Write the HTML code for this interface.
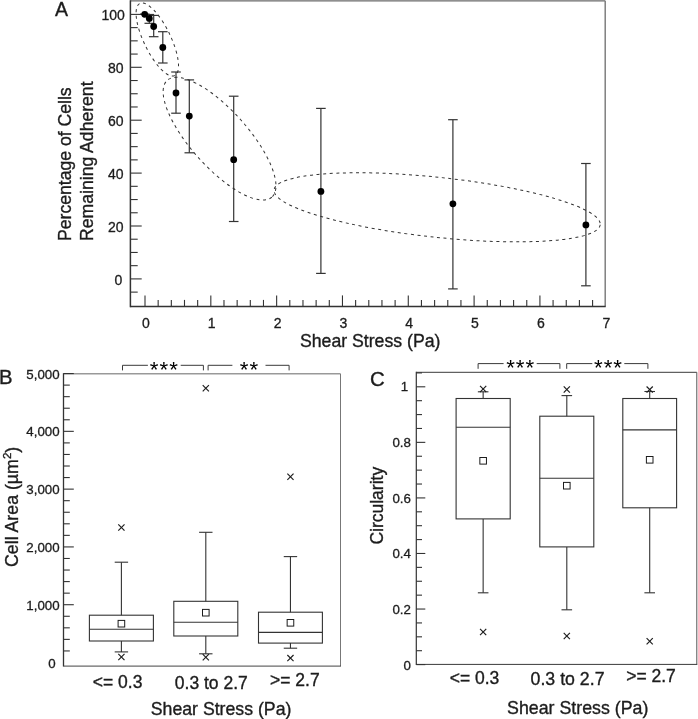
<!DOCTYPE html>
<html><head><meta charset="utf-8"><title>Figure</title>
<style>
html,body{margin:0;padding:0;background:#fff;}
body{width:698px;height:719px;overflow:hidden;}
svg{display:block;font-family:"Liberation Sans",Arial,Helvetica,sans-serif;}
</style></head><body>
<svg width="698" height="719" viewBox="0 0 698 719">
<rect x="0" y="0" width="698" height="719" fill="#fff"/>
<line x1="130.40" y1="0.80" x2="605.20" y2="0.80" stroke="#6a6a6a" stroke-width="1.3" />
<line x1="605.20" y1="0.80" x2="605.20" y2="306.40" stroke="#777" stroke-width="1.4" />
<line x1="130.40" y1="0.30" x2="130.40" y2="307.15" stroke="#333" stroke-width="1.5" />
<line x1="130.40" y1="306.40" x2="605.70" y2="306.40" stroke="#333" stroke-width="1.5" />
<line x1="145.00" y1="306.40" x2="145.00" y2="295.40" stroke="#333" stroke-width="1.1" />
<line x1="158.16" y1="306.40" x2="158.16" y2="299.90" stroke="#333" stroke-width="1.1" />
<line x1="171.33" y1="306.40" x2="171.33" y2="299.90" stroke="#333" stroke-width="1.1" />
<line x1="184.49" y1="306.40" x2="184.49" y2="299.90" stroke="#333" stroke-width="1.1" />
<line x1="197.66" y1="306.40" x2="197.66" y2="299.90" stroke="#333" stroke-width="1.1" />
<line x1="210.82" y1="306.40" x2="210.82" y2="295.40" stroke="#333" stroke-width="1.1" />
<line x1="223.98" y1="306.40" x2="223.98" y2="299.90" stroke="#333" stroke-width="1.1" />
<line x1="237.15" y1="306.40" x2="237.15" y2="299.90" stroke="#333" stroke-width="1.1" />
<line x1="250.31" y1="306.40" x2="250.31" y2="299.90" stroke="#333" stroke-width="1.1" />
<line x1="263.48" y1="306.40" x2="263.48" y2="299.90" stroke="#333" stroke-width="1.1" />
<line x1="276.64" y1="306.40" x2="276.64" y2="295.40" stroke="#333" stroke-width="1.1" />
<line x1="289.80" y1="306.40" x2="289.80" y2="299.90" stroke="#333" stroke-width="1.1" />
<line x1="302.97" y1="306.40" x2="302.97" y2="299.90" stroke="#333" stroke-width="1.1" />
<line x1="316.13" y1="306.40" x2="316.13" y2="299.90" stroke="#333" stroke-width="1.1" />
<line x1="329.30" y1="306.40" x2="329.30" y2="299.90" stroke="#333" stroke-width="1.1" />
<line x1="342.46" y1="306.40" x2="342.46" y2="295.40" stroke="#333" stroke-width="1.1" />
<line x1="355.62" y1="306.40" x2="355.62" y2="299.90" stroke="#333" stroke-width="1.1" />
<line x1="368.79" y1="306.40" x2="368.79" y2="299.90" stroke="#333" stroke-width="1.1" />
<line x1="381.95" y1="306.40" x2="381.95" y2="299.90" stroke="#333" stroke-width="1.1" />
<line x1="395.12" y1="306.40" x2="395.12" y2="299.90" stroke="#333" stroke-width="1.1" />
<line x1="408.28" y1="306.40" x2="408.28" y2="295.40" stroke="#333" stroke-width="1.1" />
<line x1="421.44" y1="306.40" x2="421.44" y2="299.90" stroke="#333" stroke-width="1.1" />
<line x1="434.61" y1="306.40" x2="434.61" y2="299.90" stroke="#333" stroke-width="1.1" />
<line x1="447.77" y1="306.40" x2="447.77" y2="299.90" stroke="#333" stroke-width="1.1" />
<line x1="460.94" y1="306.40" x2="460.94" y2="299.90" stroke="#333" stroke-width="1.1" />
<line x1="474.10" y1="306.40" x2="474.10" y2="295.40" stroke="#333" stroke-width="1.1" />
<line x1="487.26" y1="306.40" x2="487.26" y2="299.90" stroke="#333" stroke-width="1.1" />
<line x1="500.43" y1="306.40" x2="500.43" y2="299.90" stroke="#333" stroke-width="1.1" />
<line x1="513.59" y1="306.40" x2="513.59" y2="299.90" stroke="#333" stroke-width="1.1" />
<line x1="526.76" y1="306.40" x2="526.76" y2="299.90" stroke="#333" stroke-width="1.1" />
<line x1="539.92" y1="306.40" x2="539.92" y2="295.40" stroke="#333" stroke-width="1.1" />
<line x1="553.08" y1="306.40" x2="553.08" y2="299.90" stroke="#333" stroke-width="1.1" />
<line x1="566.25" y1="306.40" x2="566.25" y2="299.90" stroke="#333" stroke-width="1.1" />
<line x1="579.41" y1="306.40" x2="579.41" y2="299.90" stroke="#333" stroke-width="1.1" />
<line x1="592.58" y1="306.40" x2="592.58" y2="299.90" stroke="#333" stroke-width="1.1" />
<line x1="130.40" y1="292.12" x2="137.70" y2="292.12" stroke="#333" stroke-width="1.1" />
<line x1="130.40" y1="278.90" x2="141.70" y2="278.90" stroke="#333" stroke-width="1.1" />
<line x1="130.40" y1="265.67" x2="137.70" y2="265.67" stroke="#333" stroke-width="1.1" />
<line x1="130.40" y1="252.45" x2="137.70" y2="252.45" stroke="#333" stroke-width="1.1" />
<line x1="130.40" y1="239.22" x2="137.70" y2="239.22" stroke="#333" stroke-width="1.1" />
<line x1="130.40" y1="226.00" x2="141.70" y2="226.00" stroke="#333" stroke-width="1.1" />
<line x1="130.40" y1="212.77" x2="137.70" y2="212.77" stroke="#333" stroke-width="1.1" />
<line x1="130.40" y1="199.55" x2="137.70" y2="199.55" stroke="#333" stroke-width="1.1" />
<line x1="130.40" y1="186.32" x2="137.70" y2="186.32" stroke="#333" stroke-width="1.1" />
<line x1="130.40" y1="173.10" x2="141.70" y2="173.10" stroke="#333" stroke-width="1.1" />
<line x1="130.40" y1="159.87" x2="137.70" y2="159.87" stroke="#333" stroke-width="1.1" />
<line x1="130.40" y1="146.65" x2="137.70" y2="146.65" stroke="#333" stroke-width="1.1" />
<line x1="130.40" y1="133.42" x2="137.70" y2="133.42" stroke="#333" stroke-width="1.1" />
<line x1="130.40" y1="120.20" x2="141.70" y2="120.20" stroke="#333" stroke-width="1.1" />
<line x1="130.40" y1="106.97" x2="137.70" y2="106.97" stroke="#333" stroke-width="1.1" />
<line x1="130.40" y1="93.75" x2="137.70" y2="93.75" stroke="#333" stroke-width="1.1" />
<line x1="130.40" y1="80.52" x2="137.70" y2="80.52" stroke="#333" stroke-width="1.1" />
<line x1="130.40" y1="67.30" x2="141.70" y2="67.30" stroke="#333" stroke-width="1.1" />
<line x1="130.40" y1="54.07" x2="137.70" y2="54.07" stroke="#333" stroke-width="1.1" />
<line x1="130.40" y1="40.85" x2="137.70" y2="40.85" stroke="#333" stroke-width="1.1" />
<line x1="130.40" y1="27.62" x2="137.70" y2="27.62" stroke="#333" stroke-width="1.1" />
<line x1="130.40" y1="14.40" x2="141.70" y2="14.40" stroke="#333" stroke-width="1.1" />
<text x="145.90" y="327.60" font-size="14.0" text-anchor="middle" fill="#1c1c1c" stroke="#1c1c1c" stroke-width="0.3" >0</text>
<text x="211.72" y="327.60" font-size="14.0" text-anchor="middle" fill="#1c1c1c" stroke="#1c1c1c" stroke-width="0.3" >1</text>
<text x="277.54" y="327.60" font-size="14.0" text-anchor="middle" fill="#1c1c1c" stroke="#1c1c1c" stroke-width="0.3" >2</text>
<text x="343.36" y="327.60" font-size="14.0" text-anchor="middle" fill="#1c1c1c" stroke="#1c1c1c" stroke-width="0.3" >3</text>
<text x="409.18" y="327.60" font-size="14.0" text-anchor="middle" fill="#1c1c1c" stroke="#1c1c1c" stroke-width="0.3" >4</text>
<text x="475.00" y="327.60" font-size="14.0" text-anchor="middle" fill="#1c1c1c" stroke="#1c1c1c" stroke-width="0.3" >5</text>
<text x="540.82" y="327.60" font-size="14.0" text-anchor="middle" fill="#1c1c1c" stroke="#1c1c1c" stroke-width="0.3" >6</text>
<text x="606.34" y="327.60" font-size="14.0" text-anchor="middle" fill="#1c1c1c" stroke="#1c1c1c" stroke-width="0.3" >7</text>
<text x="122.40" y="284.80" font-size="14.0" text-anchor="end" fill="#1c1c1c" stroke="#1c1c1c" stroke-width="0.3" >0</text>
<text x="123.50" y="231.50" font-size="14.0" text-anchor="end" fill="#1c1c1c" stroke="#1c1c1c" stroke-width="0.3" >20</text>
<text x="123.50" y="178.60" font-size="14.0" text-anchor="end" fill="#1c1c1c" stroke="#1c1c1c" stroke-width="0.3" >40</text>
<text x="123.50" y="125.70" font-size="14.0" text-anchor="end" fill="#1c1c1c" stroke="#1c1c1c" stroke-width="0.3" >60</text>
<text x="123.50" y="72.50" font-size="14.0" text-anchor="end" fill="#1c1c1c" stroke="#1c1c1c" stroke-width="0.3" >80</text>
<text x="124.90" y="19.60" font-size="14.0" text-anchor="end" fill="#1c1c1c" stroke="#1c1c1c" stroke-width="0.3" >100</text>
<text x="370.20" y="346.80" font-size="17.7" text-anchor="middle" fill="#1c1c1c" stroke="#1c1c1c" stroke-width="0.35" >Shear Stress (Pa)</text>
<text transform="translate(71.0,240.9) rotate(-90)" font-size="17.6" fill="#1c1c1c" stroke="#1c1c1c" stroke-width="0.35">Percentage of Cells</text>
<text transform="translate(93.0,240.9) rotate(-90)" font-size="17.6" fill="#1c1c1c" stroke="#1c1c1c" stroke-width="0.35">Remaining Adherent</text>
<text x="55.00" y="15.80" font-size="19.5" text-anchor="start" fill="#1c1c1c" stroke="#1c1c1c" stroke-width="0.35" >A</text>
<ellipse cx="0" cy="0" rx="40.1" ry="13.45" transform="translate(157.3,39.5) rotate(64.25)" fill="none" stroke="#333" stroke-width="1.0" stroke-dasharray="3.0 3.6"/>
<ellipse cx="0" cy="0" rx="78.4" ry="28.4" transform="translate(219.55,138.7) rotate(48.16)" fill="none" stroke="#333" stroke-width="1.0" stroke-dasharray="3.0 3.6"/>
<ellipse cx="0" cy="0" rx="164.0" ry="30.0" transform="translate(437.15,207.3) rotate(6.1)" fill="none" stroke="#333" stroke-width="1.0" stroke-dasharray="3.0 3.6"/>
<line x1="144.70" y1="14.30" x2="144.70" y2="14.30" stroke="#333" stroke-width="1.2" />
<line x1="139.90" y1="14.30" x2="149.50" y2="14.30" stroke="#333" stroke-width="1.2" />
<line x1="139.90" y1="14.30" x2="149.50" y2="14.30" stroke="#333" stroke-width="1.2" />
<line x1="149.30" y1="14.50" x2="149.30" y2="23.30" stroke="#333" stroke-width="1.2" />
<line x1="144.50" y1="14.50" x2="154.10" y2="14.50" stroke="#333" stroke-width="1.2" />
<line x1="144.50" y1="23.30" x2="154.10" y2="23.30" stroke="#333" stroke-width="1.2" />
<line x1="153.70" y1="15.40" x2="153.70" y2="36.70" stroke="#333" stroke-width="1.2" />
<line x1="148.90" y1="15.40" x2="158.50" y2="15.40" stroke="#333" stroke-width="1.2" />
<line x1="148.90" y1="36.70" x2="158.50" y2="36.70" stroke="#333" stroke-width="1.2" />
<line x1="162.80" y1="31.70" x2="162.80" y2="63.00" stroke="#333" stroke-width="1.2" />
<line x1="158.00" y1="31.70" x2="167.60" y2="31.70" stroke="#333" stroke-width="1.2" />
<line x1="158.00" y1="63.00" x2="167.60" y2="63.00" stroke="#333" stroke-width="1.2" />
<line x1="176.00" y1="72.00" x2="176.00" y2="113.20" stroke="#333" stroke-width="1.2" />
<line x1="171.20" y1="72.00" x2="180.80" y2="72.00" stroke="#333" stroke-width="1.2" />
<line x1="171.20" y1="113.20" x2="180.80" y2="113.20" stroke="#333" stroke-width="1.2" />
<line x1="189.30" y1="79.90" x2="189.30" y2="152.80" stroke="#333" stroke-width="1.2" />
<line x1="184.50" y1="79.90" x2="194.10" y2="79.90" stroke="#333" stroke-width="1.2" />
<line x1="184.50" y1="152.80" x2="194.10" y2="152.80" stroke="#333" stroke-width="1.2" />
<line x1="233.70" y1="96.20" x2="233.70" y2="221.50" stroke="#333" stroke-width="1.2" />
<line x1="228.90" y1="96.20" x2="238.50" y2="96.20" stroke="#333" stroke-width="1.2" />
<line x1="228.90" y1="221.50" x2="238.50" y2="221.50" stroke="#333" stroke-width="1.2" />
<line x1="320.90" y1="108.40" x2="320.90" y2="273.40" stroke="#333" stroke-width="1.2" />
<line x1="316.10" y1="108.40" x2="325.70" y2="108.40" stroke="#333" stroke-width="1.2" />
<line x1="316.10" y1="273.40" x2="325.70" y2="273.40" stroke="#333" stroke-width="1.2" />
<line x1="452.90" y1="119.70" x2="452.90" y2="288.90" stroke="#333" stroke-width="1.2" />
<line x1="448.10" y1="119.70" x2="457.70" y2="119.70" stroke="#333" stroke-width="1.2" />
<line x1="448.10" y1="288.90" x2="457.70" y2="288.90" stroke="#333" stroke-width="1.2" />
<line x1="585.90" y1="163.50" x2="585.90" y2="285.80" stroke="#333" stroke-width="1.2" />
<line x1="581.10" y1="163.50" x2="590.70" y2="163.50" stroke="#333" stroke-width="1.2" />
<line x1="581.10" y1="285.80" x2="590.70" y2="285.80" stroke="#333" stroke-width="1.2" />
<circle cx="144.7" cy="14.3" r="3.4" fill="#000"/>
<circle cx="149.3" cy="18.4" r="3.4" fill="#000"/>
<circle cx="153.7" cy="26.5" r="3.4" fill="#000"/>
<circle cx="162.8" cy="47.5" r="3.4" fill="#000"/>
<circle cx="176.0" cy="93.0" r="3.4" fill="#000"/>
<circle cx="189.3" cy="116.1" r="3.4" fill="#000"/>
<circle cx="233.7" cy="159.7" r="3.4" fill="#000"/>
<circle cx="320.9" cy="191.4" r="3.4" fill="#000"/>
<circle cx="452.9" cy="203.8" r="3.4" fill="#000"/>
<circle cx="585.9" cy="224.9" r="3.4" fill="#000"/>
<line x1="63.50" y1="373.80" x2="340.50" y2="373.80" stroke="#999" stroke-width="1.4" />
<line x1="340.50" y1="373.80" x2="340.50" y2="666.10" stroke="#777" stroke-width="1.0" />
<line x1="63.50" y1="373.20" x2="63.50" y2="666.60" stroke="#333" stroke-width="1.3" />
<line x1="63.50" y1="666.10" x2="341.00" y2="666.10" stroke="#444" stroke-width="1.0" />
<line x1="63.50" y1="650.94" x2="69.80" y2="650.94" stroke="#333" stroke-width="1.1" />
<line x1="63.50" y1="639.38" x2="69.80" y2="639.38" stroke="#333" stroke-width="1.1" />
<line x1="63.50" y1="627.83" x2="69.80" y2="627.83" stroke="#333" stroke-width="1.1" />
<line x1="63.50" y1="616.27" x2="69.80" y2="616.27" stroke="#333" stroke-width="1.1" />
<line x1="63.50" y1="604.71" x2="73.80" y2="604.71" stroke="#333" stroke-width="1.1" />
<line x1="63.50" y1="593.15" x2="69.80" y2="593.15" stroke="#333" stroke-width="1.1" />
<line x1="63.50" y1="581.59" x2="69.80" y2="581.59" stroke="#333" stroke-width="1.1" />
<line x1="63.50" y1="570.04" x2="69.80" y2="570.04" stroke="#333" stroke-width="1.1" />
<line x1="63.50" y1="558.48" x2="69.80" y2="558.48" stroke="#333" stroke-width="1.1" />
<line x1="63.50" y1="546.92" x2="73.80" y2="546.92" stroke="#333" stroke-width="1.1" />
<line x1="63.50" y1="535.36" x2="69.80" y2="535.36" stroke="#333" stroke-width="1.1" />
<line x1="63.50" y1="523.80" x2="69.80" y2="523.80" stroke="#333" stroke-width="1.1" />
<line x1="63.50" y1="512.25" x2="69.80" y2="512.25" stroke="#333" stroke-width="1.1" />
<line x1="63.50" y1="500.69" x2="69.80" y2="500.69" stroke="#333" stroke-width="1.1" />
<line x1="63.50" y1="489.13" x2="73.80" y2="489.13" stroke="#333" stroke-width="1.1" />
<line x1="63.50" y1="477.57" x2="69.80" y2="477.57" stroke="#333" stroke-width="1.1" />
<line x1="63.50" y1="466.01" x2="69.80" y2="466.01" stroke="#333" stroke-width="1.1" />
<line x1="63.50" y1="454.46" x2="69.80" y2="454.46" stroke="#333" stroke-width="1.1" />
<line x1="63.50" y1="442.90" x2="69.80" y2="442.90" stroke="#333" stroke-width="1.1" />
<line x1="63.50" y1="431.34" x2="73.80" y2="431.34" stroke="#333" stroke-width="1.1" />
<line x1="63.50" y1="419.78" x2="69.80" y2="419.78" stroke="#333" stroke-width="1.1" />
<line x1="63.50" y1="408.22" x2="69.80" y2="408.22" stroke="#333" stroke-width="1.1" />
<line x1="63.50" y1="396.67" x2="69.80" y2="396.67" stroke="#333" stroke-width="1.1" />
<line x1="63.50" y1="385.11" x2="69.80" y2="385.11" stroke="#333" stroke-width="1.1" />
<line x1="63.50" y1="373.55" x2="73.80" y2="373.55" stroke="#333" stroke-width="1.1" />
<text x="55.60" y="667.50" font-size="13.3" text-anchor="end" fill="#1c1c1c" stroke="#1c1c1c" stroke-width="0.3" >0</text>
<text x="59.60" y="609.71" font-size="13.3" text-anchor="end" fill="#1c1c1c" stroke="#1c1c1c" stroke-width="0.3" >1,000</text>
<text x="59.60" y="551.92" font-size="13.3" text-anchor="end" fill="#1c1c1c" stroke="#1c1c1c" stroke-width="0.3" >2,000</text>
<text x="59.60" y="494.13" font-size="13.3" text-anchor="end" fill="#1c1c1c" stroke="#1c1c1c" stroke-width="0.3" >3,000</text>
<text x="59.60" y="436.34" font-size="13.3" text-anchor="end" fill="#1c1c1c" stroke="#1c1c1c" stroke-width="0.3" >4,000</text>
<text x="59.60" y="378.55" font-size="13.3" text-anchor="end" fill="#1c1c1c" stroke="#1c1c1c" stroke-width="0.3" >5,000</text>
<text x="-0.90" y="383.50" font-size="20.3" text-anchor="start" fill="#1c1c1c" stroke="#1c1c1c" stroke-width="0.35" >B</text>
<text transform="translate(17.6,567.0) rotate(-90)" font-size="17.75" fill="#1c1c1c" stroke="#1c1c1c" stroke-width="0.35">Cell Area (µm<tspan font-size="11.5" dy="-6.8">2</tspan><tspan dy="6.8">)</tspan></text>
<line x1="121.40" y1="562.20" x2="121.40" y2="615.20" stroke="#333" stroke-width="1.1" />
<line x1="121.40" y1="641.00" x2="121.40" y2="651.90" stroke="#333" stroke-width="1.1" />
<line x1="114.70" y1="562.20" x2="128.10" y2="562.20" stroke="#333" stroke-width="1.1" />
<line x1="114.70" y1="651.90" x2="128.10" y2="651.90" stroke="#333" stroke-width="1.1" />
<rect x="89.40" y="615.20" width="64.00" height="25.80" fill="none" stroke="#333" stroke-width="1.1"/>
<line x1="89.40" y1="629.30" x2="153.40" y2="629.30" stroke="#333" stroke-width="1.1" />
<rect x="118.10" y="620.40" width="6.60" height="6.60" fill="#fff" stroke="#1c1c1c" stroke-width="1.0"/>
<line x1="118.30" y1="653.90" x2="124.50" y2="660.10" stroke="#1c1c1c" stroke-width="1.15" />
<line x1="118.30" y1="660.10" x2="124.50" y2="653.90" stroke="#1c1c1c" stroke-width="1.15" />
<line x1="118.30" y1="524.40" x2="124.50" y2="530.60" stroke="#1c1c1c" stroke-width="1.15" />
<line x1="118.30" y1="530.60" x2="124.50" y2="524.40" stroke="#1c1c1c" stroke-width="1.15" />
<line x1="205.80" y1="532.30" x2="205.80" y2="601.30" stroke="#333" stroke-width="1.1" />
<line x1="205.80" y1="636.00" x2="205.80" y2="653.80" stroke="#333" stroke-width="1.1" />
<line x1="199.10" y1="532.30" x2="212.50" y2="532.30" stroke="#333" stroke-width="1.1" />
<line x1="199.10" y1="653.80" x2="212.50" y2="653.80" stroke="#333" stroke-width="1.1" />
<rect x="173.80" y="601.30" width="64.00" height="34.70" fill="none" stroke="#333" stroke-width="1.1"/>
<line x1="173.80" y1="622.20" x2="237.80" y2="622.20" stroke="#333" stroke-width="1.1" />
<rect x="202.50" y="609.40" width="6.60" height="6.60" fill="#fff" stroke="#1c1c1c" stroke-width="1.0"/>
<line x1="202.70" y1="654.10" x2="208.90" y2="660.30" stroke="#1c1c1c" stroke-width="1.15" />
<line x1="202.70" y1="660.30" x2="208.90" y2="654.10" stroke="#1c1c1c" stroke-width="1.15" />
<line x1="202.70" y1="385.10" x2="208.90" y2="391.30" stroke="#1c1c1c" stroke-width="1.15" />
<line x1="202.70" y1="391.30" x2="208.90" y2="385.10" stroke="#1c1c1c" stroke-width="1.15" />
<line x1="290.45" y1="556.60" x2="290.45" y2="612.20" stroke="#333" stroke-width="1.1" />
<line x1="290.45" y1="643.10" x2="290.45" y2="648.20" stroke="#333" stroke-width="1.1" />
<line x1="283.75" y1="556.60" x2="297.15" y2="556.60" stroke="#333" stroke-width="1.1" />
<line x1="283.75" y1="648.20" x2="297.15" y2="648.20" stroke="#333" stroke-width="1.1" />
<rect x="258.50" y="612.20" width="63.90" height="30.90" fill="none" stroke="#333" stroke-width="1.1"/>
<line x1="258.50" y1="632.40" x2="322.40" y2="632.40" stroke="#333" stroke-width="1.1" />
<rect x="287.15" y="619.50" width="6.60" height="6.60" fill="#fff" stroke="#1c1c1c" stroke-width="1.0"/>
<line x1="287.35" y1="655.00" x2="293.55" y2="661.20" stroke="#1c1c1c" stroke-width="1.15" />
<line x1="287.35" y1="661.20" x2="293.55" y2="655.00" stroke="#1c1c1c" stroke-width="1.15" />
<line x1="287.35" y1="473.60" x2="293.55" y2="479.80" stroke="#1c1c1c" stroke-width="1.15" />
<line x1="287.35" y1="479.80" x2="293.55" y2="473.60" stroke="#1c1c1c" stroke-width="1.15" />
<polyline points="122.5,370.4 122.5,365.3 147.9,365.3" fill="none" stroke="#3a3a3a" stroke-width="1.0"/>
<polyline points="180.7,365.3 203.4,365.3 203.4,370.4" fill="none" stroke="#3a3a3a" stroke-width="1.0"/>
<text x="164.30" y="376.60" font-size="22.3" text-anchor="middle" fill="#000" stroke="#000" stroke-width="0" letter-spacing="1.0">***</text>
<polyline points="208.1,370.4 208.1,365.3 232.4,365.3" fill="none" stroke="#3a3a3a" stroke-width="1.0"/>
<polyline points="265.5,365.3 289.1,365.3 289.1,370.4" fill="none" stroke="#3a3a3a" stroke-width="1.0"/>
<text x="249.50" y="376.60" font-size="22.3" text-anchor="middle" fill="#000" stroke="#000" stroke-width="0" letter-spacing="1.0">**</text>
<text x="92.75" y="688.40" font-size="17.5" text-anchor="start" fill="#1c1c1c" stroke="#1c1c1c" stroke-width="0.35" >&lt;= 0.3</text>
<text x="174.80" y="688.70" font-size="17.5" text-anchor="start" fill="#1c1c1c" stroke="#1c1c1c" stroke-width="0.35" >0.3 to 2.7</text>
<text x="270.00" y="686.40" font-size="17.5" text-anchor="start" fill="#1c1c1c" stroke="#1c1c1c" stroke-width="0.35" >&gt;= 2.7</text>
<text x="221.10" y="715.10" font-size="17.7" text-anchor="middle" fill="#1c1c1c" stroke="#1c1c1c" stroke-width="0.35" >Shear Stress (Pa)</text>
<line x1="416.30" y1="371.80" x2="416.30" y2="664.90" stroke="#333" stroke-width="1.2" />
<line x1="416.30" y1="372.30" x2="696.80" y2="372.30" stroke="#3a3a3a" stroke-width="1.0" />
<line x1="696.80" y1="372.30" x2="696.80" y2="664.40" stroke="#555" stroke-width="1.0" />
<line x1="416.30" y1="664.40" x2="697.30" y2="664.40" stroke="#3a3a3a" stroke-width="1.0" />
<line x1="416.30" y1="664.60" x2="425.30" y2="664.60" stroke="#333" stroke-width="1.1" />
<line x1="416.30" y1="650.71" x2="422.00" y2="650.71" stroke="#333" stroke-width="1.1" />
<line x1="416.30" y1="636.82" x2="422.00" y2="636.82" stroke="#333" stroke-width="1.1" />
<line x1="416.30" y1="622.93" x2="422.00" y2="622.93" stroke="#333" stroke-width="1.1" />
<line x1="416.30" y1="609.04" x2="425.30" y2="609.04" stroke="#333" stroke-width="1.1" />
<line x1="416.30" y1="595.15" x2="422.00" y2="595.15" stroke="#333" stroke-width="1.1" />
<line x1="416.30" y1="581.26" x2="422.00" y2="581.26" stroke="#333" stroke-width="1.1" />
<line x1="416.30" y1="567.37" x2="422.00" y2="567.37" stroke="#333" stroke-width="1.1" />
<line x1="416.30" y1="553.48" x2="425.30" y2="553.48" stroke="#333" stroke-width="1.1" />
<line x1="416.30" y1="539.59" x2="422.00" y2="539.59" stroke="#333" stroke-width="1.1" />
<line x1="416.30" y1="525.70" x2="422.00" y2="525.70" stroke="#333" stroke-width="1.1" />
<line x1="416.30" y1="511.81" x2="422.00" y2="511.81" stroke="#333" stroke-width="1.1" />
<line x1="416.30" y1="497.92" x2="425.30" y2="497.92" stroke="#333" stroke-width="1.1" />
<line x1="416.30" y1="484.03" x2="422.00" y2="484.03" stroke="#333" stroke-width="1.1" />
<line x1="416.30" y1="470.14" x2="422.00" y2="470.14" stroke="#333" stroke-width="1.1" />
<line x1="416.30" y1="456.25" x2="422.00" y2="456.25" stroke="#333" stroke-width="1.1" />
<line x1="416.30" y1="442.36" x2="425.30" y2="442.36" stroke="#333" stroke-width="1.1" />
<line x1="416.30" y1="428.47" x2="422.00" y2="428.47" stroke="#333" stroke-width="1.1" />
<line x1="416.30" y1="414.58" x2="422.00" y2="414.58" stroke="#333" stroke-width="1.1" />
<line x1="416.30" y1="400.69" x2="422.00" y2="400.69" stroke="#333" stroke-width="1.1" />
<line x1="416.30" y1="386.80" x2="425.30" y2="386.80" stroke="#333" stroke-width="1.1" />
<line x1="416.30" y1="372.91" x2="422.00" y2="372.91" stroke="#333" stroke-width="1.1" />
<text x="410.90" y="669.50" font-size="13.3" text-anchor="end" fill="#1c1c1c" stroke="#1c1c1c" stroke-width="0.3" >0</text>
<text x="410.90" y="613.94" font-size="13.3" text-anchor="end" fill="#1c1c1c" stroke="#1c1c1c" stroke-width="0.3" >0.2</text>
<text x="410.90" y="558.38" font-size="13.3" text-anchor="end" fill="#1c1c1c" stroke="#1c1c1c" stroke-width="0.3" >0.4</text>
<text x="410.90" y="502.82" font-size="13.3" text-anchor="end" fill="#1c1c1c" stroke="#1c1c1c" stroke-width="0.3" >0.6</text>
<text x="410.90" y="447.26" font-size="13.3" text-anchor="end" fill="#1c1c1c" stroke="#1c1c1c" stroke-width="0.3" >0.8</text>
<text x="408.20" y="391.30" font-size="13.3" text-anchor="end" fill="#1c1c1c" stroke="#1c1c1c" stroke-width="0.3" >1</text>
<text x="369.90" y="386.00" font-size="20.4" text-anchor="start" fill="#1c1c1c" stroke="#1c1c1c" stroke-width="0.35" >C</text>
<text transform="translate(383.3,544.6) rotate(-90)" font-size="17.5" fill="#1c1c1c" stroke="#1c1c1c" stroke-width="0.35">Circularity</text>
<line x1="483.15" y1="391.80" x2="483.15" y2="398.50" stroke="#333" stroke-width="1.1" />
<line x1="483.15" y1="518.90" x2="483.15" y2="592.80" stroke="#333" stroke-width="1.1" />
<line x1="477.85" y1="391.80" x2="488.45" y2="391.80" stroke="#333" stroke-width="1.1" />
<line x1="477.85" y1="592.80" x2="488.45" y2="592.80" stroke="#333" stroke-width="1.1" />
<rect x="456.10" y="398.50" width="54.10" height="120.40" fill="none" stroke="#333" stroke-width="1.1"/>
<line x1="456.10" y1="427.30" x2="510.20" y2="427.30" stroke="#333" stroke-width="1.1" />
<rect x="479.85" y="457.50" width="6.60" height="6.60" fill="#fff" stroke="#1c1c1c" stroke-width="1.0"/>
<line x1="480.05" y1="628.90" x2="486.25" y2="635.10" stroke="#1c1c1c" stroke-width="1.15" />
<line x1="480.05" y1="635.10" x2="486.25" y2="628.90" stroke="#1c1c1c" stroke-width="1.15" />
<line x1="480.05" y1="385.90" x2="486.25" y2="392.10" stroke="#1c1c1c" stroke-width="1.15" />
<line x1="480.05" y1="392.10" x2="486.25" y2="385.90" stroke="#1c1c1c" stroke-width="1.15" />
<line x1="566.80" y1="395.60" x2="566.80" y2="416.20" stroke="#333" stroke-width="1.1" />
<line x1="566.80" y1="546.90" x2="566.80" y2="609.80" stroke="#333" stroke-width="1.1" />
<line x1="561.50" y1="395.60" x2="572.10" y2="395.60" stroke="#333" stroke-width="1.1" />
<line x1="561.50" y1="609.80" x2="572.10" y2="609.80" stroke="#333" stroke-width="1.1" />
<rect x="539.80" y="416.20" width="54.00" height="130.70" fill="none" stroke="#333" stroke-width="1.1"/>
<line x1="539.80" y1="478.30" x2="593.80" y2="478.30" stroke="#333" stroke-width="1.1" />
<rect x="563.50" y="482.40" width="6.60" height="6.60" fill="#fff" stroke="#1c1c1c" stroke-width="1.0"/>
<line x1="563.70" y1="632.90" x2="569.90" y2="639.10" stroke="#1c1c1c" stroke-width="1.15" />
<line x1="563.70" y1="639.10" x2="569.90" y2="632.90" stroke="#1c1c1c" stroke-width="1.15" />
<line x1="563.70" y1="386.40" x2="569.90" y2="392.60" stroke="#1c1c1c" stroke-width="1.15" />
<line x1="563.70" y1="392.60" x2="569.90" y2="386.40" stroke="#1c1c1c" stroke-width="1.15" />
<line x1="649.70" y1="391.50" x2="649.70" y2="398.50" stroke="#333" stroke-width="1.1" />
<line x1="649.70" y1="507.80" x2="649.70" y2="592.80" stroke="#333" stroke-width="1.1" />
<line x1="644.40" y1="391.50" x2="655.00" y2="391.50" stroke="#333" stroke-width="1.1" />
<line x1="644.40" y1="592.80" x2="655.00" y2="592.80" stroke="#333" stroke-width="1.1" />
<rect x="622.80" y="398.50" width="53.80" height="109.30" fill="none" stroke="#333" stroke-width="1.1"/>
<line x1="622.80" y1="429.90" x2="676.60" y2="429.90" stroke="#333" stroke-width="1.1" />
<rect x="646.40" y="456.50" width="6.60" height="6.60" fill="#fff" stroke="#1c1c1c" stroke-width="1.0"/>
<line x1="646.60" y1="638.10" x2="652.80" y2="644.30" stroke="#1c1c1c" stroke-width="1.15" />
<line x1="646.60" y1="644.30" x2="652.80" y2="638.10" stroke="#1c1c1c" stroke-width="1.15" />
<line x1="646.60" y1="386.50" x2="652.80" y2="392.70" stroke="#1c1c1c" stroke-width="1.15" />
<line x1="646.60" y1="392.70" x2="652.80" y2="386.50" stroke="#1c1c1c" stroke-width="1.15" />
<polyline points="478.1,368.8 478.1,363.6 503.6,363.6" fill="none" stroke="#3a3a3a" stroke-width="1.0"/>
<polyline points="536.7,363.6 559.9,363.6 559.9,368.8" fill="none" stroke="#3a3a3a" stroke-width="1.0"/>
<text x="520.70" y="374.90" font-size="22.3" text-anchor="middle" fill="#000" stroke="#000" stroke-width="0" letter-spacing="1.0">***</text>
<polyline points="566.7,368.8 566.7,363.6 592.3,363.6" fill="none" stroke="#3a3a3a" stroke-width="1.0"/>
<polyline points="624.3,363.6 647.9,363.6 647.9,368.8" fill="none" stroke="#3a3a3a" stroke-width="1.0"/>
<text x="608.50" y="374.90" font-size="22.3" text-anchor="middle" fill="#000" stroke="#000" stroke-width="0" letter-spacing="1.0">***</text>
<text x="449.70" y="683.80" font-size="17.5" text-anchor="start" fill="#1c1c1c" stroke="#1c1c1c" stroke-width="0.35" >&lt;= 0.3</text>
<text x="530.60" y="684.70" font-size="17.5" text-anchor="start" fill="#1c1c1c" stroke="#1c1c1c" stroke-width="0.35" textLength="73.9" lengthAdjust="spacingAndGlyphs">0.3 to 2.7</text>
<text x="626.20" y="681.60" font-size="17.5" text-anchor="start" fill="#1c1c1c" stroke="#1c1c1c" stroke-width="0.35" >&gt;= 2.7</text>
<text x="577.70" y="714.00" font-size="17.8" text-anchor="middle" fill="#1c1c1c" stroke="#1c1c1c" stroke-width="0.35" >Shear Stress (Pa)</text>
</svg>
</body></html>
